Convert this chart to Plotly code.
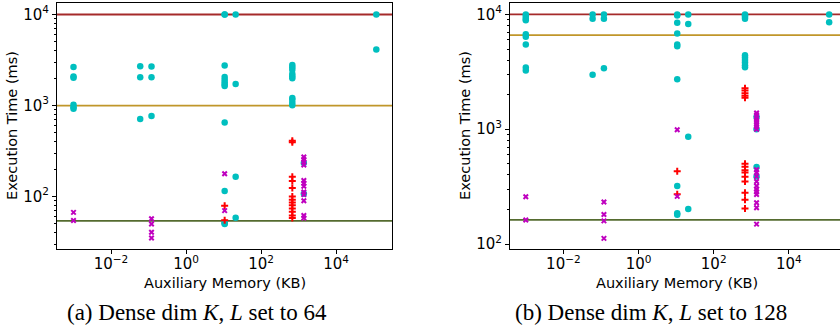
import plotly.graph_objects as go

# ---------------- data ----------------
# (a) L = 64
a_cyan_x = [0.001]*6 + [0.06]*3 + [0.12]*3 + [10.7]*13 + [21]*4 + [680]*10 + [1380]*2 + [118000]*2
a_cyan_y = [2650, 2080, 2020, 1020, 960, 920,
            2700, 2040, 711,
            2680, 2040, 767,
            10000, 10000, 2750, 2060, 1920, 1800, 1700, 1640, 650, 115, 52, 50, 51,
            10000, 1720, 165, 58.6,
            2790, 2630, 2470, 2220, 2100, 2000, 1210, 1160, 1070, 1010,
            234, 107,
            10000, 4130]
a_red_x = [10.7]*2 + [680]*13
a_red_y = [79, 55,
           410, 395, 165, 148, 124, 100, 92, 86, 80, 74, 68, 62, 58]
a_mag_x = [0.001]*2 + [0.12]*4 + [10.7]*2 + [1380]*12
a_mag_y = [67, 54.5,
           57, 50, 40.6, 35,
           178, 70,
           272, 255, 240, 222, 150, 140, 130, 112, 105, 90, 62, 58]
a_hlines = [10000, 1000, 54]

# (b) L = 128
b_cyan_x = [0.001]*9 + [0.06]*3 + [0.12]*3 + [10.7]*10 + [21]*4 + [680]*10 + [1380]*4 + [118000]*2
b_cyan_y = [10000, 9610, 9180, 8880, 6730, 6400, 5480, 3450, 3250,
            10000, 9180, 2980,
            10000, 9180, 3400,
            10000, 9800, 8480, 6820, 5480, 5290, 2720, 321, 185, 180,
            10000, 8260, 860, 202,
            10000, 9800, 9500, 9180, 4400, 4210, 4010, 3810, 3610, 3470,
            1280, 1000, 468, 388,
            10000, 8530]
b_red_x = [10.7]*2 + [680]*14
b_red_y = [430, 272,
           2270, 2170, 2060, 1960, 1880, 500, 470, 440, 420, 385, 350, 279, 243, 204]
b_mag_x = [0.001]*2 + [0.12]*4 + [10.7]*2 + [1380]*19
b_mag_y = [258, 162,
           232, 181, 159, 112,
           990, 260,
           1385, 1330, 1250, 1200, 1150, 1100, 1050, 1000,
           443, 420, 390, 350, 320, 300, 285, 270, 229, 207, 149]
b_hlines = [10000, 6600, 162]

hline_colors = ["#a52a2a", "#c0962a", "#556b2f"]

x_tickvals = [1e-2, 1, 1e2, 1e4]
x_ticktext = ["10<sup>\u22122</sup>", "10<sup>0</sup>", "10<sup>2</sup>", "10<sup>4</sup>"]
y_tickvals = [1e1, 1e2, 1e3, 1e4]
y_ticktext = ["10<sup>1</sup>", "10<sup>2</sup>", "10<sup>3</sup>", "10<sup>4</sup>"]
y_minor = [m * 10**e for e in range(1, 5) for m in range(2, 10)]

x_title = "Auxiliary Memory (KB)"
y_title = "Execution Time (ms)"
captions = ["(a) Dense dim <i>K</i>, <i>L</i> set to 64", "(b) Dense dim <i>K</i>, <i>L</i> set to 128"]

# ---------------- figure ----------------
W, H = 840, 332
CYAN, RED, MAG = "#00bfbf", "#ff0000", "#bf00bf"
FONT = "DejaVu Sans"

fig = go.Figure()

def add_series(xs, ys, axx, axy, color, symbol, size, lw):
    fig.add_trace(go.Scatter(
        x=xs, y=ys, mode="markers", xaxis=axx, yaxis=axy, showlegend=False,
        marker=dict(color=color, symbol=symbol, size=size,
                    line=dict(color=color, width=lw)),
    ))

add_series(a_cyan_x, a_cyan_y, "x", "y", CYAN, "circle", 6.5, 0)
add_series(a_red_x, a_red_y, "x", "y", RED, "cross-thin", 5, 2)
add_series(a_mag_x, a_mag_y, "x", "y", MAG, "x-thin", 4.5, 2)
add_series(b_cyan_x, b_cyan_y, "x2", "y2", CYAN, "circle", 6.5, 0)
add_series(b_red_x, b_red_y, "x2", "y2", RED, "cross-thin", 5, 2)
add_series(b_mag_x, b_mag_y, "x2", "y2", MAG, "x-thin", 4.5, 2)

shapes = []
for vals, xr, yr in [(a_hlines, "x domain", "y"), (b_hlines, "x2 domain", "y2")]:
    for v, c in zip(vals, hline_colors):
        shapes.append(dict(type="line", xref=xr, yref=yr, x0=0, x1=1, y0=v, y1=v,
                           line=dict(color=c, width=1.8), layer="below"))

def xaxis(domain, rng, mirror):
    return dict(type="log", domain=domain, range=rng, tickmode="array",
                tickvals=x_tickvals, ticktext=x_ticktext, ticks="outside", ticklen=4,
                tickwidth=1, tickcolor="black", showline=True, linecolor="black",
                linewidth=1, mirror=mirror, showgrid=False, zeroline=False,
                ticklabelstandoff=-3,
                tickfont=dict(family=FONT, size=15, color="black"))

def yaxis(domain, rng, anchor, mirror):
    return dict(type="log", domain=domain, range=rng, anchor=anchor, tickmode="array",
                tickvals=y_tickvals, ticktext=y_ticktext, ticks="outside", ticklen=4,
                tickwidth=1, tickcolor="black", showline=True, linecolor="black",
                linewidth=1, mirror=mirror, showgrid=False, zeroline=False,
                tickfont=dict(family=FONT, size=15, color="black"),
                minor=dict(tickmode="array", tickvals=y_minor, ticks="outside",
                           ticklen=2.5, tickwidth=0.8, tickcolor="black", showgrid=False))

ydom = [1 - 252 / H, 1 - 3 / H]
fig.update_layout(
    width=W, height=H, autosize=False,
    margin=dict(l=0, r=0, t=0, b=0),
    paper_bgcolor="white", plot_bgcolor="white",
    xaxis=xaxis([57 / W, 392 / W], [-3.44, 5.49], True),
    yaxis=yaxis(ydom, [1.424, 4.127], "x", True),
    xaxis2=dict(xaxis([510 / W, 1.0], [-3.42, 5.36], True), anchor="y2"),
    yaxis2=yaxis(ydom, [1.957, 4.10], "x2", False),
    shapes=shapes,
)

ann = []
for cx, yx in [(224.5, 12), (677, 465)]:
    ann.append(dict(text=x_title, x=cx / W, y=1 - 286.5 / H, xref="paper", yref="paper",
                    showarrow=False, xanchor="center", yanchor="middle",
                    font=dict(family=FONT, size=14.5, color="black")))
    ann.append(dict(text=y_title, x=yx / W, y=1 - 127.5 / H, xref="paper", yref="paper",
                    showarrow=False, xanchor="center", yanchor="middle", textangle=-90,
                    font=dict(family=FONT, size=14.5, color="black")))
for cap, cx in zip(captions, [197, 651]):
    ann.append(dict(text=cap, x=cx / W, y=1 - 316 / H, xref="paper", yref="paper",
                    showarrow=False, xanchor="center", yanchor="middle",
                    font=dict(family="Liberation Serif", size=23, color="black")))
fig.update_layout(annotations=ann)

fig.write_html("out.html")
